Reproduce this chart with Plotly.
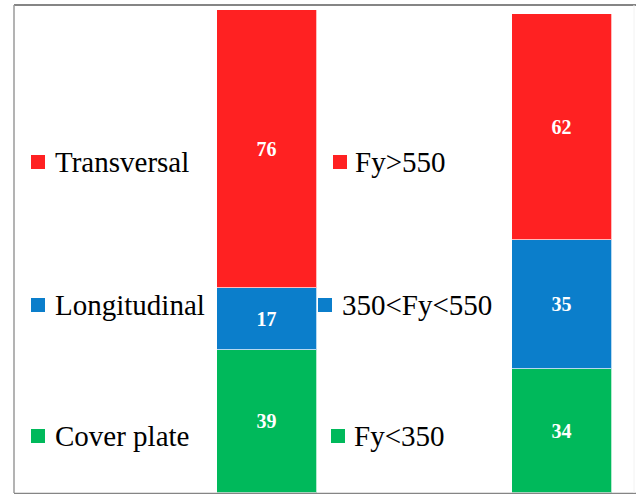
import plotly.graph_objects as go

W, H = 636, 494

categories = ["Type", "Strength"]
series_names = ["Cover plate", "Longitudinal", "Transversal"]
cover_plate = [39, 34]
longitudinal = [17, 35]
transversal = [76, 62]

legend_left = ["Transversal", "Longitudinal", "Cover plate"]
legend_right = ["Fy>550", "350<Fy<550", "Fy<350"]

colors = {"Cover plate": "#00B95B", "Longitudinal": "#0B7ECB", "Transversal": "#FF2122"}

fig = go.Figure()
for name, vals in zip(series_names, [cover_plate, longitudinal, transversal]):
    fig.add_trace(go.Bar(
        x=categories, y=vals, name=name,
        marker=dict(color=colors[name], line=dict(color="rgba(255,255,255,0.7)", width=1)),
        width=0.34,
        text=[str(v) for v in vals],
        textposition="inside", insidetextanchor="middle", textangle=0,
        constraintext="none",
        textfont=dict(family="Liberation Serif", size=20, color="white", weight="bold"),
        showlegend=False,
    ))

def px2x(px):
    return px / W

def px2y(py):
    return 1 - py / H

shapes = []
annotations = []
# frame
shapes.append(dict(type="line", xref="paper", yref="paper", x0=px2x(14), x1=1, y0=px2y(5), y1=px2y(5),
                   line=dict(color="#858585", width=2)))
shapes.append(dict(type="line", xref="paper", yref="paper", x0=px2x(14), x1=px2x(14), y0=px2y(5), y1=px2y(493),
                   line=dict(color="#9a9a9a", width=1.5)))
shapes.append(dict(type="line", xref="paper", yref="paper", x0=px2x(14), x1=1, y0=px2y(493.5), y1=px2y(493.5),
                   line=dict(color="#858585", width=1.5)))
shapes.append(dict(type="line", xref="paper", yref="paper", x0=px2x(634), x1=px2x(634), y0=px2y(5), y1=px2y(493),
                   line=dict(color="#f2f2f2", width=1)))

left_items = [("Transversal", 31, 162, 53), ("Longitudinal", 31, 305, 53), ("Cover plate", 31, 436, 53)]
right_items = [("Fy>550", 333, 162, 353, "Transversal"), ("350<Fy<550", 318, 305, 340, "Longitudinal"),
               ("Fy<350", 331, 436, 352, "Cover plate")]

for label, sx, cy, tx in left_items:
    shapes.append(dict(type="rect", xref="paper", yref="paper", x0=px2x(sx), x1=px2x(sx + 14),
                       y0=px2y(cy - 7), y1=px2y(cy + 7), fillcolor=colors[label], line=dict(width=0)))
    annotations.append(dict(text=label, xref="paper", yref="paper", x=px2x(tx), y=px2y(cy),
                            xanchor="left", yanchor="middle", showarrow=False,
                            font=dict(family="Liberation Serif", size=29, color="black")))
for label, sx, cy, tx, ser in right_items:
    shapes.append(dict(type="rect", xref="paper", yref="paper", x0=px2x(sx), x1=px2x(sx + 14),
                       y0=px2y(cy - 7), y1=px2y(cy + 7), fillcolor=colors[ser], line=dict(width=0)))
    annotations.append(dict(text=label, xref="paper", yref="paper", x=px2x(tx), y=px2y(cy),
                            xanchor="left", yanchor="middle", showarrow=False,
                            font=dict(family="Liberation Serif", size=29, color="black")))

ppu_x = 295.0
xr = [0 - 267 / ppu_x, 1 + (W - 562) / ppu_x]
ppu_y = 3.66
yr = [-(H - 493) / ppu_y, 493 / ppu_y]

fig.update_layout(
    width=W, height=H, margin=dict(l=0, r=0, t=0, b=0),
    barmode="stack", bargap=0,
    plot_bgcolor="white", paper_bgcolor="white",
    xaxis=dict(range=xr, visible=False, type="category"),
    yaxis=dict(range=yr, visible=False),
    shapes=shapes, annotations=annotations,
    uniformtext=dict(mode=False),
)

fig.write_html("out.html")
